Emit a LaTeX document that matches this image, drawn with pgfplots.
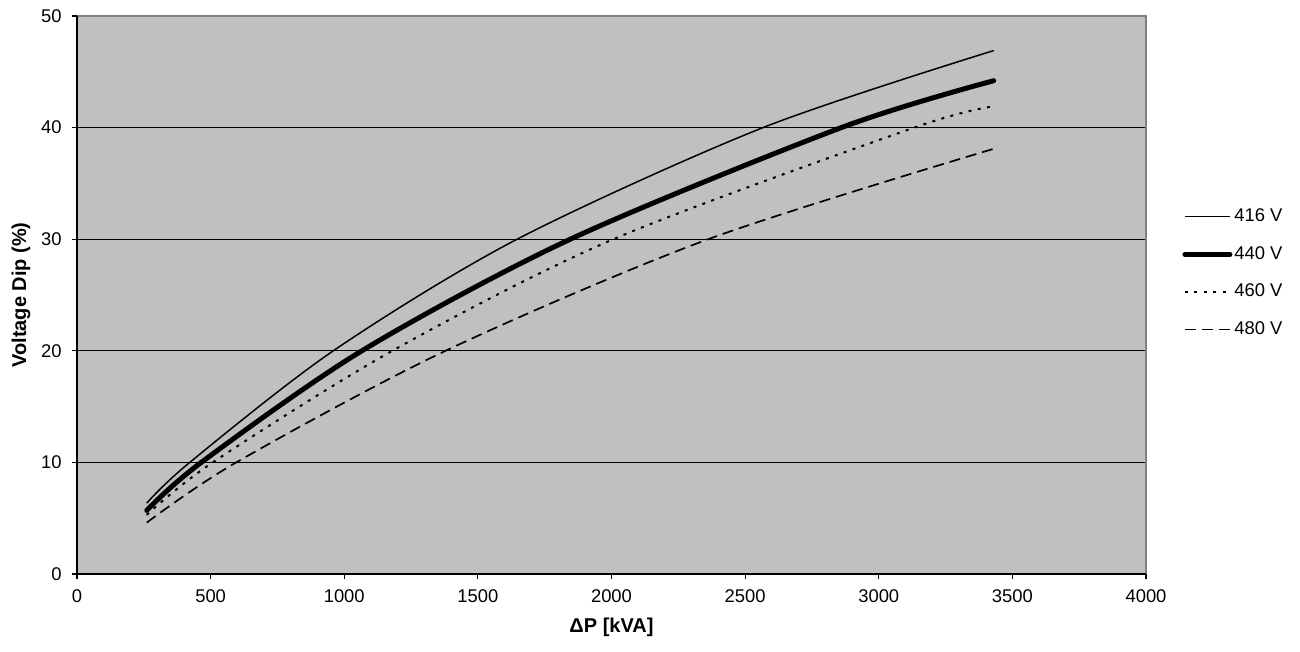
\documentclass[border=0pt]{standalone}
\usepackage{pgfplots}
\pgfplotsset{compat=1.18}
\usepackage{fontspec}
\setmainfont{Liberation Sans}
\definecolor{plotbg}{RGB}{192,192,192}
\definecolor{framegray}{RGB}{128,128,128}
\begin{document}
\begin{tikzpicture}
\useasboundingbox (-38.5pt,-39pt) rectangle (611.5pt,287pt);
\begin{axis}[
  at={(0pt,0pt)}, anchor=south west,
  scale only axis,
  width=534.5pt, height=279pt,
  xmin=0, xmax=4000, ymin=0, ymax=50,
  xtick={0,500,...,4000}, ytick={0,10,...,50},
  xtick pos=left, ytick pos=left,
  tick align=outside, major tick length=2.7pt,
  tick style={black, line width=0.6pt},
  axis line style={draw=none},
  axis background/.style={fill=plotbg},
  ymajorgrids, grid style={black, line width=0.6pt},
  /pgf/number format/assume math mode=true,
  /pgf/number format/set thousands separator={},
  ticklabel style={font=\fontsize{9.2}{11}\selectfont},
  xticklabel style={yshift=-1.5pt},
  yticklabel style={xshift=-1.5pt},
  xlabel={\textbf{ΔP [kVA]}},
  ylabel={\textbf{Voltage Dip (\%)}},
  label style={font=\fontsize{10}{12}\selectfont},
  xlabel style={yshift=-1pt},
  ylabel style={yshift=-1.5pt},
  legend style={draw=none, fill=none, at={(1,0.666)}, anchor=north west,
    xshift=15pt, font=\fontsize{9.2}{11}\selectfont, row sep=8.9pt,
    nodes={inner xsep=1pt, inner ysep=1pt}},
  legend cell align=left,
  legend image code/.code={\draw[#1] (0pt,0pt) -- (22.5pt,0pt);},
  clip=false,
]
\draw[framegray, line width=0.8pt] (rel axis cs:0,1) -- (rel axis cs:1,1) -- (rel axis cs:1,0);
\draw[black, line width=0.7pt] (rel axis cs:0,1) -- (rel axis cs:0,0) -- (rel axis cs:1,0);

\addplot[black, line width=0.75pt, smooth] coordinates {
 (261,6.35) (422,10) (959,20) (1647,30) (2567,40) (3430,46.9)};
\addlegendentry{416 V}
\addplot[black, line width=2.5pt, smooth, line cap=round] coordinates {
 (261,5.7) (465,10) (1066,20) (1846,30) (2860,40) (3430,44.2)};
\addlegendentry{440 V}
\addplot[black, line width=1pt, smooth, dash pattern=on 1.5pt off 3.2pt] coordinates {
 (261,5.3) (508,10) (1180,20) (2007,30) (3133,40) (3430,41.9)};
\addlegendentry{460 V}
\addplot[black, line width=0.85pt, smooth, dash pattern=on 5.5pt off 3pt] coordinates {
 (261,4.6) (596,10) (1379,20) (2362,30) (3430,38.1)};
\addlegendentry{480 V}
\end{axis}
\end{tikzpicture}
\end{document}
